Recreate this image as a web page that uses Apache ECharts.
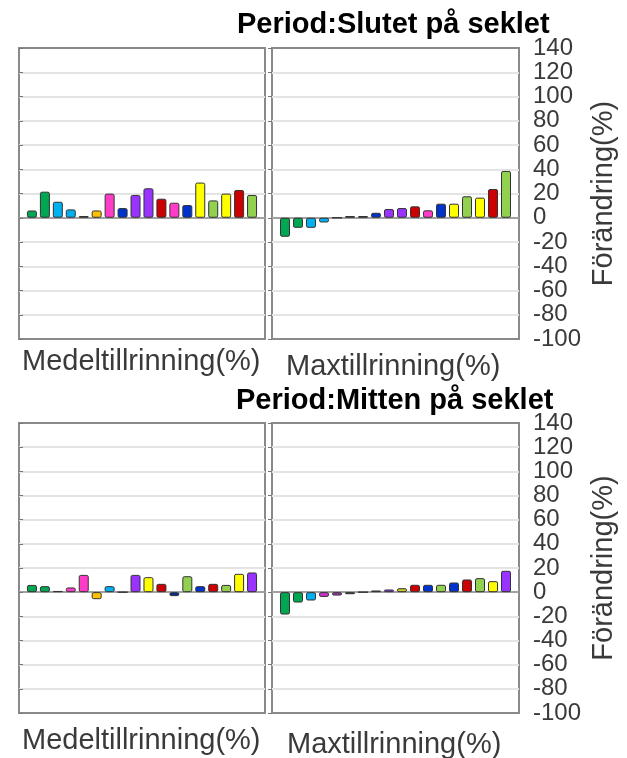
<!DOCTYPE html>
<html>
<head>
<meta charset="utf-8">
<script src="https://cdn.jsdelivr.net/npm/echarts@6/dist/echarts.min.js"></script>
<style>html,body{margin:0;padding:0;background:#fff;}#c{width:627px;height:758px;}</style>
</head>
<body>
<div id="c"></div>
<script>
// station indices 1..18
const stations = [1,2,3,4,5,6,7,8,9,10,11,12,13,14,15,16,17,18];
const yTicks = [-100,-80,-60,-40,-20,0,20,40,60,80,100,120,140];

const endMeanVals = [6, 21.5, 13.2, 6.9, 1.4, 6, 19.9, 8, 18.8, 24.3, 15.7, 12.4, 10.5, 29, 14.3, 19.9, 22.9, 18.8];
const endMaxVals  = [-15.7, -8.3, -8.3, -3.9, 0, 1.4, 1.4, 4.1, 7.2, 8, 9.4, 6.1, 11.6, 11.6, 17.7, 16.6, 23.7, 38.6];
const midMeanVals = [6, 5, 1, 3.9, 14.3, -5.8, 5, 0, 14.3, 12.4, 6.9, -3.3, 13.2, 5, 6.9, 6, 15.2, 16.3];
const midMaxVals  = [-18.5, -8.6, -6.9, -3.9, -2.8, -1.7, 0, 1.4, 2.2, 3.3, 6.1, 6.1, 6.1, 8, 10.5, 11.6, 9.1, 17.7];

const G='#00A651', C='#00B0F0', D='#333333', O='#FFC000', P='#FF3CC8', B='#0033CC',
      V='#9933FF', R='#CC0000', Y='#FFFF00', L='#92D050', DB='#0A2A8C', M='#CC33CC', VM='#A030B0', OL='#CCCC22';

const endMeanColors = [G,G,C,C,D,O,P,B,V,V,R,P,B,Y,L,Y,R,L];
const endMaxColors  = [G,G,C,C,O,D,D,B,V,V,R,P,B,Y,L,Y,R,L];
const midMeanColors = [G,G,D,P,P,O,C,B,V,Y,R,DB,L,B,R,L,Y,V];
const midMaxColors  = [G,G,C,M,VM,D,D,D,V,OL,R,B,L,B,R,L,Y,V];

const titles = ['Period:Slutet på seklet', 'Period:Mitten på seklet'];
const xNames = ['Medeltillrinning(%)', 'Maxtillrinning(%)'];
const yName = 'Förändring(%)';

const panels = [
  {vals:endMeanVals, cols:endMeanColors, grid:{left:19, top:48, width:246, height:291}, right:false},
  {vals:endMaxVals,  cols:endMaxColors,  grid:{left:272, top:48, width:247, height:291}, right:true},
  {vals:midMeanVals, cols:midMeanColors, grid:{left:19, top:423, width:246, height:290}, right:false},
  {vals:midMaxVals,  cols:midMaxColors,  grid:{left:272, top:423, width:247, height:290}, right:true}
];

const FONT = '"Liberation Sans", Arial, sans-serif';
const grids=[], xAxes=[], yAxes=[], series=[];
panels.forEach((p,i)=>{
  grids.push(Object.assign({show:true, borderColor:'#8a8a8a', borderWidth:2, backgroundColor:'#fff'}, p.grid));
  xAxes.push({type:'value', gridIndex:i, min:0, max:stations.length+1,
    axisLine:{show:true, onZero:true, lineStyle:{color:'#8a8a8a', width:1.5}},
    axisTick:{show:false}, axisLabel:{show:false}, splitLine:{show:false}});
  yAxes.push({type:'value', gridIndex:i, min:yTicks[0], max:yTicks[yTicks.length-1], interval:20,
    position: p.right ? 'right' : 'left',
    axisLine:{show:false},
    axisTick:{show:true, inside:true, length:4, lineStyle:{color:'#777', width:1}},
    axisLabel:{show:p.right, margin:14, fontSize:24, color:'#3a3a3a', fontFamily:FONT},
    splitLine:{show:true, showMinLine:false, showMaxLine:false, lineStyle:{color:'#e4e4e4', width:2}},
    name: p.right ? yName : '', nameLocation:'middle', nameRotate:90, nameGap:70,
    nameTextStyle:{fontSize:29, color:'#3a3a3a', fontFamily:FONT}
  });
  series.push({type:'bar', xAxisIndex:i, yAxisIndex:i, barWidth:10,
    data: stations.map((s,k)=>({value:[s, p.vals[k]], itemStyle:{color:p.cols[k]}})),
    itemStyle:{borderColor:'#333', borderWidth:1, borderRadius:1.5},
    silent:true, animation:false});
});

const tt = (text, left, top, size, bold) => ({text, left, top, padding:0,
  textStyle:{fontSize:size, fontWeight: bold?'bold':'normal', color: bold?'#000':'#3a3a3a', fontFamily:FONT}});

const chart = echarts.init(document.getElementById('c'), null, {renderer:'canvas'});
chart.setOption({
  backgroundColor:'#fff',
  animation:false,
  title:[
    tt(titles[0], 237, 10, 29, true),
    tt(xNames[0], 22, 347, 29, false),
    tt(xNames[1], 286, 352, 29, false),
    tt(titles[1], 236, 386, 29, true),
    tt(xNames[0], 22, 726, 29, false),
    tt(xNames[1], 287, 730, 29, false)
  ],
  grid:grids, xAxis:xAxes, yAxis:yAxes, series
});
</script>
</body>
</html>
